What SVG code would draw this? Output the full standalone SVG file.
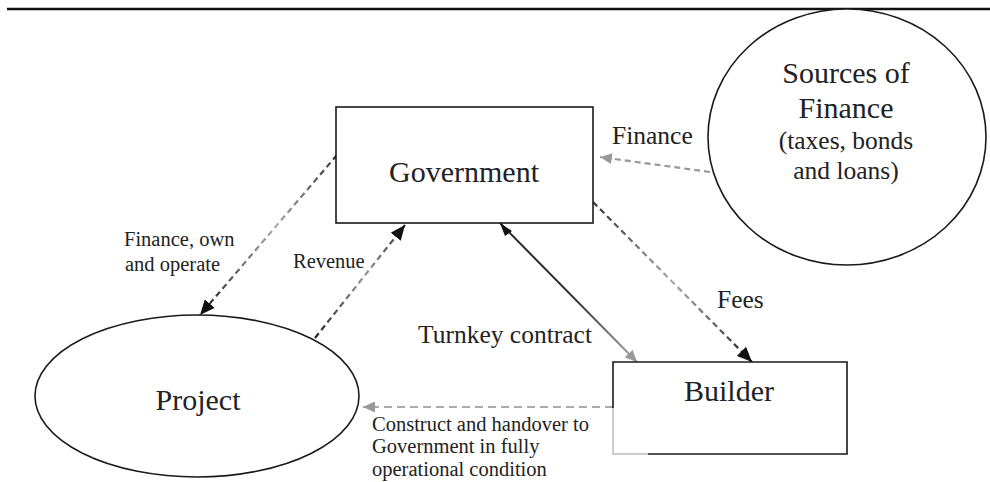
<svg xmlns="http://www.w3.org/2000/svg" width="990" height="482" viewBox="0 0 990 482">
<style>
  .node { fill: #fff; stroke: #1a1a1a; stroke-width: 1.6; }
  text { font-family: 'Liberation Serif', 'DejaVu Serif', 'Noto Serif', serif; fill: #222; }
  .title { font-size: 30px; text-anchor: middle; }
  .sub { font-size: 25.5px; text-anchor: middle; }
  .lab { font-size: 25.5px; }
  .small { font-size: 20.5px; }
  .dash { fill: none; stroke-width: 2.2; stroke-dasharray: 6 4; }
</style>
<defs>
  <marker id="ahBlack" markerUnits="userSpaceOnUse" markerWidth="15" markerHeight="13" refX="15" refY="6.5" orient="auto">
    <path d="M0,0 L15,6.5 L0,13 z" fill="#111"/>
  </marker>
  <marker id="ahGray" markerUnits="userSpaceOnUse" markerWidth="12" markerHeight="11" refX="12" refY="5.5" orient="auto">
    <path d="M0,0 L12,5.5 L0,11 z" fill="#999"/>
  </marker>
  <linearGradient id="gFoo" gradientUnits="userSpaceOnUse" x1="337" y1="155" x2="200" y2="315">
    <stop offset="0" stop-color="#333"/>
    <stop offset="0.45" stop-color="#aaa"/>
    <stop offset="1" stop-color="#222"/>
  </linearGradient>
  <linearGradient id="gRev" gradientUnits="userSpaceOnUse" x1="315" y1="338" x2="405" y2="225">
    <stop offset="0" stop-color="#222"/>
    <stop offset="0.55" stop-color="#999"/>
    <stop offset="1" stop-color="#333"/>
  </linearGradient>
  <linearGradient id="gFees" gradientUnits="userSpaceOnUse" x1="593" y1="202" x2="752" y2="362">
    <stop offset="0" stop-color="#333"/>
    <stop offset="0.5" stop-color="#aaa"/>
    <stop offset="1" stop-color="#222"/>
  </linearGradient>
  <linearGradient id="gTurn" gradientUnits="userSpaceOnUse" x1="500" y1="223" x2="637" y2="362">
    <stop offset="0" stop-color="#222"/>
    <stop offset="0.55" stop-color="#333"/>
    <stop offset="1" stop-color="#aaa"/>
  </linearGradient>
</defs>

<line x1="7" y1="9" x2="990" y2="9" stroke="#111" stroke-width="2.4"/>

<g id="connectors">
  <line id="c-foo" class="dash" x1="337" y1="155" x2="200" y2="315" stroke="url(#gFoo)" marker-end="url(#ahBlack)"/>
  <line id="c-revenue" class="dash" x1="315" y1="338" x2="405" y2="225" stroke="url(#gRev)" marker-end="url(#ahBlack)"/>
  <line id="c-fees" class="dash" x1="593" y1="202" x2="752" y2="362" stroke="url(#gFees)" marker-end="url(#ahBlack)"/>
  <line id="c-turnkey" x1="500" y1="223" x2="637" y2="362" stroke="url(#gTurn)" stroke-width="2" fill="none" marker-end="url(#ahGray)"/>
  <path d="M500,223 L512,231 L505,236 z" fill="#111"/>
  <line id="c-finance" class="dash" x1="710" y1="172" x2="600" y2="157" stroke="#999" marker-end="url(#ahGray)"/>
  <line id="c-construct" fill="none" stroke="#aaa" stroke-width="2.2" stroke-dasharray="8 5" x1="613" y1="407" x2="363" y2="407" marker-end="url(#ahGray)"/>
</g>

<g id="government">
  <rect class="node" x="336" y="107" width="257" height="116"/>
  <text class="title" x="464" y="182">Government</text>
</g>

<g id="sources">
  <ellipse class="node" cx="847" cy="137" rx="139" ry="128"/>
  <text class="title" x="846" y="83">Sources of</text>
  <text class="title" x="846" y="118">Finance</text>
  <text class="sub" x="846" y="149">(taxes, bonds</text>
  <text class="sub" x="846" y="179">and loans)</text>
</g>

<g id="project">
  <ellipse class="node" cx="197" cy="396" rx="162" ry="81"/>
  <text class="title" x="198" y="410">Project</text>
</g>

<g id="builder">
  <rect x="613" y="362" width="234" height="92" fill="#fff" stroke="none"/>
  <path d="M613,408 L613,362 L847,362 L847,454 L648,454" fill="none" stroke="#1a1a1a" stroke-width="1.6"/>
  <path d="M613,408 L613,454 L648,454" fill="none" stroke="#bbb" stroke-width="1.4"/>
  <text class="title" x="729" y="401">Builder</text>
</g>

<g id="labels">
  <text class="lab" x="612" y="144">Finance</text>
  <text class="lab" x="717" y="308">Fees</text>
  <text class="lab" x="418" y="343">Turnkey contract</text>
  <text class="small" x="293" y="268">Revenue</text>
  <text class="small" x="124" y="246">Finance, own</text>
  <text class="small" x="125" y="271">and operate</text>
  <text class="small" x="372" y="431">Construct and handover to</text>
  <text class="small" x="372" y="453">Government in fully</text>
  <text class="small" x="372" y="476">operational condition</text>
</g>
</svg>
